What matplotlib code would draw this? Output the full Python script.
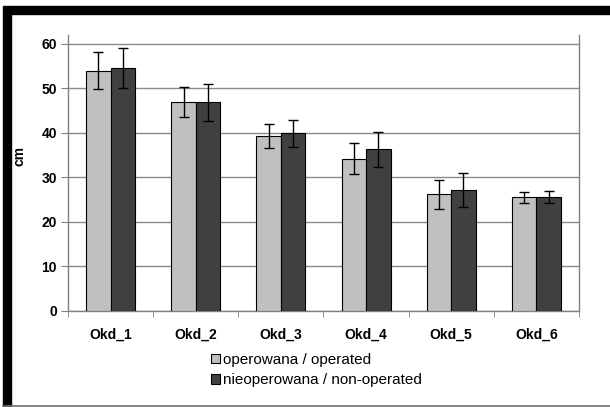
import numpy as np
import matplotlib
matplotlib.use("Agg")
import matplotlib.pyplot as plt
from matplotlib.patches import Rectangle
from matplotlib.lines import Line2D

plt.rcParams['font.family'] = ['Liberation Sans', 'DejaVu Sans']

categories = ['Okd_1', 'Okd_2', 'Okd_3', 'Okd_4', 'Okd_5', 'Okd_6']
operated = [54.0, 47.0, 39.3, 34.2, 26.2, 25.5]
operated_err = [4.2, 3.4, 2.6, 3.5, 3.2, 1.2]
non_operated = [54.6, 46.9, 39.9, 36.3, 27.2, 25.6]
non_operated_err = [4.5, 4.2, 3.0, 3.9, 3.8, 1.4]
labels = ['operowana / operated', 'nieoperowana / non-operated']

W, H = 610, 407
fig = plt.figure(figsize=(W / 100, H / 100), dpi=100)
fig.patch.set_facecolor('white')

# picture frame: thick black top and left, thin grey bottom
fig.patches.append(Rectangle((3 / W, 1 - 14 / H), 1 - 3 / W, 8 / H, transform=fig.transFigure,
                             color='black', zorder=0))
fig.patches.append(Rectangle((3 / W, 1 - 406 / H), 8 / W, 392 / H, transform=fig.transFigure,
                             color='black', zorder=0))
fig.lines.append(Line2D([3 / W, 1], [1 - 406 / H, 1 - 406 / H], transform=fig.transFigure,
                        color='#707070', lw=1.2))

ax = fig.add_axes([68 / W, 1 - 311 / H, 511 / W, 276 / H])

x = np.arange(len(categories))
bw = 0.287
ekw = dict(ecolor='black', elinewidth=1, capsize=3.5, capthick=1)
ax.bar(x - bw / 2, operated, bw, yerr=operated_err, color='#c0c0c0', edgecolor='black',
       linewidth=0.8, error_kw=ekw, label=labels[0], zorder=3)
ax.bar(x + bw / 2, non_operated, bw, yerr=non_operated_err, color='#404040', edgecolor='black',
       linewidth=0.8, error_kw=ekw, label=labels[1], zorder=3)

ax.set_xlim(-0.5, len(categories) - 0.5)
ax.set_ylim(0, 62)
ax.set_yticks(range(0, 61, 10))
ax.yaxis.grid(True, color='#8a8a8a', linewidth=1)
ax.set_axisbelow(True)

ax.set_xticks(x)
ax.set_xticklabels(categories, fontsize=10, fontweight='bold')
ax.set_xticks(np.arange(-0.5, len(categories)), minor=True)
ax.tick_params(axis='x', which='major', length=0, pad=12)
ax.tick_params(axis='x', which='minor', length=4, color='#808080', direction='out')
ax.tick_params(axis='y', length=5, color='#808080', labelsize=10, pad=3)
for t in ax.get_yticklabels():
    t.set_fontweight('bold')

ax.spines['top'].set_visible(False)
for s in ['left', 'right', 'bottom']:
    ax.spines[s].set_color('#808080')
    ax.spines[s].set_linewidth(1)

ax.set_ylabel('cm', fontsize=10, fontweight='bold')
ax.yaxis.set_label_coords(-0.082, 0.56)

fig.legend(loc='upper left', bbox_to_anchor=(211 / W, 1 - 353 / H), frameon=False,
           fontsize=11, handlelength=0.6, handleheight=0.6, handletextpad=0.2,
           labelspacing=0.4, borderaxespad=0, borderpad=0)

fig.savefig('out.png', dpi=100)
